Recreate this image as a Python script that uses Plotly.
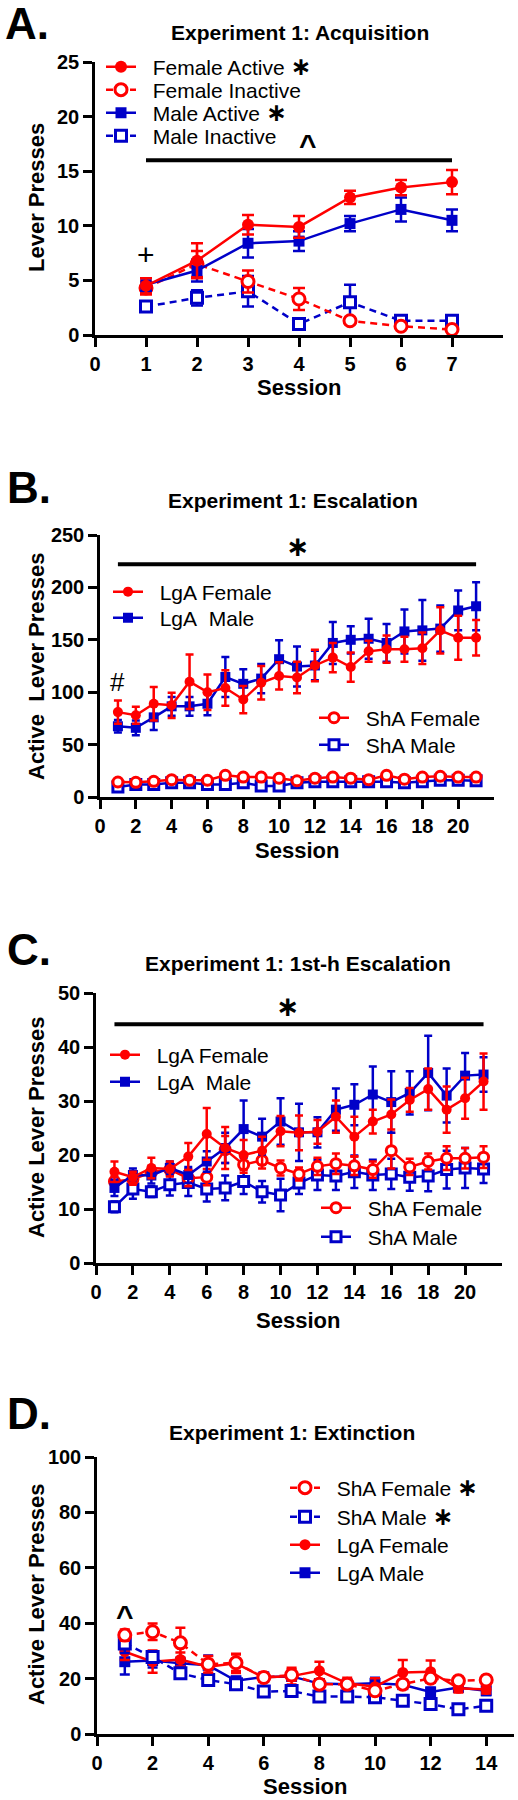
import plotly.graph_objects as go

W, H = 518, 1800
FONT = "Arial, 'Liberation Sans', Helvetica, sans-serif"
RED = "#FF0000"
BLUE = "#0000C8"

# ---------------- Panel A: Acquisition ----------------
sessions_A = [1, 2, 3, 4, 5, 6, 7]
female_active = [4.5, 6.8, 10.1, 9.9, 12.6, 13.5, 14.0]
female_active_err = [0.7, 1.6, 0.9, 1.0, 0.6, 0.7, 1.1]
female_inactive = [4.3, 6.5, 4.9, 3.3, 1.3, 0.8, 0.5]
female_inactive_err = [0.6, 1.2, 1.0, 1.0, 0.3, 0.2, 0.2]
male_active = [4.6, 5.9, 8.4, 8.6, 10.2, 11.5, 10.5]
male_active_err = [0.6, 1.0, 1.3, 0.9, 0.7, 1.1, 1.0]
male_inactive = [2.6, 3.4, 4.0, 1.0, 3.0, 1.3, 1.3]
male_inactive_err = [0.4, 0.7, 1.4, 0.3, 1.6, 0.3, 0.3]
ticks_A_x = [0, 1, 2, 3, 4, 5, 6, 7]
ticks_A_y = [0, 5, 10, 15, 20, 25]

# ---------------- Panel B: Escalation ----------------
sessions_B = list(range(1, 22))
lga_female_B = [81, 78, 89, 87.5, 110, 100, 104, 93, 109, 115.5, 114, 125.5, 133, 124, 139, 141, 141, 142, 159, 152, 152]
lga_female_B_err = [11, 8, 16, 12, 26, 17, 17, 13, 16, 13, 15, 15, 14, 14, 10, 13, 12, 15, 22, 21, 17]
lga_male_B = [67.5, 66, 76, 86.5, 86.5, 89, 114.5, 108, 113, 131.5, 124.5, 125.5, 147, 150, 151, 147, 158, 159, 160.7, 178, 182]
lga_male_B_err = [6, 7, 12, 9, 9, 11, 19, 14, 14, 18, 19, 14, 20, 13, 19, 18, 21, 29, 22, 19, 23]
sha_female_B = [14.3, 14, 15, 16.5, 16, 16, 20.7, 19, 19, 18, 15.5, 18, 19, 18, 16.5, 20.7, 17, 19, 19.8, 19, 19]
sha_female_B_err = [2] * 21
sha_male_B = [9.6, 12, 12, 13.5, 13.5, 12, 12, 13.5, 10.5, 10.5, 13.5, 14.5, 14.5, 14.5, 14.5, 14.5, 13.5, 14.5, 16, 16, 15.5]
sha_male_B_err = [2] * 21
ticks_B_x = [0, 2, 4, 6, 8, 10, 12, 14, 16, 18, 20]
ticks_B_y = [0, 50, 100, 150, 200, 250]

# ---------------- Panel C: 1st-h Escalation ----------------
sessions_C = list(range(1, 22))
lga_female_C = [16.9, 15.9, 17.6, 17.4, 19.7, 23.9, 21.3, 20.0, 20.8, 24.4, 24.1, 24.3, 27.1, 23.4, 26.2, 27.5, 30.2, 32.2, 28.4, 30.5, 33.6]
lga_female_C_err = [1.9, 1.0, 1.9, 1.4, 2.5, 4.8, 3.9, 2.8, 2.6, 2.8, 3.2, 2.2, 3.0, 3.7, 2.2, 2.8, 2.2, 3.8, 4.3, 3.8, 5.2]
lga_male_C = [13.9, 16.3, 16.2, 17.6, 16.3, 18.8, 21.3, 24.8, 23.4, 26.2, 24.2, 24.2, 28.4, 29.3, 31.2, 29.8, 31.5, 35.2, 31.0, 34.7, 34.9]
lga_male_C_err = [1.5, 1.2, 1.5, 1.2, 1.5, 1.9, 2.8, 5.3, 3.3, 4.3, 5.3, 2.8, 3.9, 3.8, 5.2, 5.7, 4.0, 6.9, 5.0, 4.2, 3.2]
sha_female_C = [15.1, 15.5, 16.8, 17.3, 15.7, 15.9, 21.0, 18.2, 19.0, 17.6, 16.5, 17.9, 18.4, 18.0, 17.3, 20.8, 17.8, 18.8, 19.4, 19.4, 19.6]
sha_female_C_err = [1.0, 1.0, 1.2, 1.2, 1.5, 1.5, 2.5, 1.5, 1.5, 1.4, 1.2, 1.6, 1.9, 1.7, 1.5, 3.3, 1.5, 1.5, 2.2, 1.9, 2.0]
sha_male_C = [10.4, 13.7, 13.2, 14.5, 14.9, 13.7, 13.9, 15.1, 13.2, 12.6, 14.8, 16.3, 16.1, 16.9, 16.3, 16.5, 15.9, 16.1, 17.3, 17.6, 17.4]
sha_male_C_err = [1.0, 1.8, 1.0, 2.0, 2.5, 2.3, 2.3, 2.3, 2.0, 3.0, 2.0, 2.8, 2.6, 3.0, 2.8, 2.8, 2.5, 2.8, 3.5, 3.7, 2.6]
ticks_C_x = [0, 2, 4, 6, 8, 10, 12, 14, 16, 18, 20]
ticks_C_y = [0, 10, 20, 30, 40, 50]

# ---------------- Panel D: Extinction ----------------
sessions_D = list(range(1, 15))
sha_female_D = [35.7, 36.9, 32.9, 25.2, 25.7, 20.4, 21.3, 18.0, 18.0, 15.6, 18.0, 20.1, 19.2, 19.5]
sha_female_D_err = [2.0, 3.0, 5.5, 3.0, 3.0, 1.5, 2.0, 1.5, 1.5, 1.5, 1.5, 1.5, 1.5, 1.5]
sha_male_D = [32.7, 27.8, 21.9, 19.5, 18.0, 15.3, 15.5, 13.5, 13.5, 13.3, 12.0, 10.8, 8.9, 10.2]
sha_male_D_err = [3.5, 2.0, 1.5, 2.0, 1.5, 1.5, 1.5, 1.5, 1.5, 1.5, 1.5, 1.5, 1.5, 1.5]
lga_female_D = [29.7, 26.1, 26.9, 24.3, 25.5, 20.4, 20.9, 22.8, 18.3, 17.1, 22.2, 22.5, 16.5, 16.1]
lga_female_D_err = [3.0, 4.0, 2.5, 2.5, 3.5, 1.5, 3.0, 3.3, 2.0, 3.0, 4.5, 4.0, 1.5, 1.5]
lga_male_D = [26.1, 26.5, 25.5, 24.8, 19.2, 20.6, 20.8, 18.2, 18.0, 18.3, 17.8, 15.2, 16.8, 15.6]
lga_male_D_err = [4.6, 2.5, 2.0, 3.5, 1.5, 1.5, 1.5, 1.5, 1.5, 2.0, 1.5, 1.5, 1.5, 1.5]
ticks_D_x = [0, 2, 4, 6, 8, 10, 12, 14]
ticks_D_y = [0, 20, 40, 60, 80, 100]

# significance bars (x0, x1, y) in data units
sig_bar_A = (1, 7, 16.0)
sig_bar_B = (1, 21, 222)
sig_bar_C = (1, 21, 44.2)

# ---------------- layout geometry (pixels) ----------------
panels = {
    1: dict(x0=95, x1=503, y_top=62, y_bot=335, xr=[0, 8], yr=[0, 25], xt=ticks_A_x, yt=ticks_A_y),
    2: dict(x0=100, x1=494, y_top=535, y_bot=797, xr=[0, 22], yr=[0, 250], xt=ticks_B_x, yt=ticks_B_y),
    3: dict(x0=96, x1=502, y_top=993, y_bot=1263, xr=[0, 22], yr=[0, 50], xt=ticks_C_x, yt=ticks_C_y),
    4: dict(x0=97, x1=514, y_top=1457, y_bot=1734, xr=[0, 15], yr=[0, 100], xt=ticks_D_x, yt=ticks_D_y),
}

def px(x):
    return x / W

def py(y):
    return 1 - y / H

fig = go.Figure()
legend_count = [0]
legend_layouts = {}

LEG_MARK_OFF = 22   # legend-left to symbol-center offset (px)


def add_series(panel, x, y, err, color, filled, dash, name, symbol, size, cap, leg_px, leg_py):
    legend_count[0] += 1
    lid = "legend" if legend_count[0] == 1 else f"legend{legend_count[0]}"
    xa = "x" if panel == 1 else f"x{panel}"
    ya = "y" if panel == 1 else f"y{panel}"
    marker = dict(symbol=symbol, size=size,
                  color=color if filled else "white",
                  line=dict(color=color, width=0 if filled else 3))
    fig.add_trace(go.Scatter(
        x=x, y=y, mode="lines+markers", name=name,
        line=dict(color=color, width=2.5, dash=dash),
        marker=marker,
        error_y=dict(type="data", array=err, color=color, thickness=2.5, width=cap),
        xaxis=xa, yaxis=ya, legend=lid, cliponaxis=False, showlegend=True,
    ))
    legend_layouts[lid] = dict(
        x=px(leg_px - LEG_MARK_OFF), y=py(leg_py), xanchor="left", yanchor="middle",
        bgcolor="rgba(0,0,0,0)", borderwidth=0, itemwidth=30, tracegroupgap=0,
        font=dict(family=FONT, size=21, color="black"),
    )

SP = "\u00a0\u00a0"
STAR = "\u00a0<span style='font-family:DejaVu Sans;font-size:25px;font-weight:bold'>\u2217</span>"
DASH = "7px,5px"

# Panel A
add_series(1, sessions_A, male_inactive, male_inactive_err, BLUE, False, DASH, SP + "Male Inactive", "square", 11, 6, 123, 136)
add_series(1, sessions_A, female_inactive, female_inactive_err, RED, False, DASH, SP + "Female Inactive", "circle", 12, 6, 123, 90)
add_series(1, sessions_A, male_active, male_active_err, BLUE, True, "solid", SP + "Male Active" + STAR, "square", 11, 6, 123, 113)
add_series(1, sessions_A, female_active, female_active_err, RED, True, "solid", SP + "Female Active" + STAR, "circle", 12, 6, 123, 67)

# Panel B
add_series(2, sessions_B, sha_male_B, sha_male_B_err, BLUE, False, "solid", SP + "ShA Male", "square", 10, 4, 336, 745)
add_series(2, sessions_B, sha_female_B, sha_female_B_err, RED, False, "solid", SP + "ShA Female", "circle", 10, 4, 336, 718)
add_series(2, sessions_B, lga_male_B, lga_male_B_err, BLUE, True, "solid", SP + "LgA\u00a0 Male", "square", 10, 4, 130, 618)
add_series(2, sessions_B, lga_female_B, lga_female_B_err, RED, True, "solid", SP + "LgA Female", "circle", 10, 4, 130, 592)

# Panel C
add_series(3, sessions_C, sha_male_C, sha_male_C_err, BLUE, False, "solid", SP + "ShA Male", "square", 10, 4, 338, 1237)
add_series(3, sessions_C, sha_female_C, sha_female_C_err, RED, False, "solid", SP + "ShA Female", "circle", 10, 4, 338, 1208)
add_series(3, sessions_C, lga_male_C, lga_male_C_err, BLUE, True, "solid", SP + "LgA\u00a0 Male", "square", 10, 4, 127, 1082)
add_series(3, sessions_C, lga_female_C, lga_female_C_err, RED, True, "solid", SP + "LgA Female", "circle", 10, 4, 127, 1055)

# Panel D
add_series(4, sessions_D, lga_male_D, lga_male_D_err, BLUE, True, "solid", SP + "LgA Male", "square", 11, 5, 307, 1573)
add_series(4, sessions_D, lga_female_D, lga_female_D_err, RED, True, "solid", SP + "LgA Female", "circle", 11, 5, 307, 1545)
add_series(4, sessions_D, sha_male_D, sha_male_D_err, BLUE, False, DASH, SP + "ShA Male" + STAR, "square", 11, 5, 307, 1517)
add_series(4, sessions_D, sha_female_D, sha_female_D_err, RED, False, DASH, SP + "ShA Female" + STAR, "circle", 12, 5, 307, 1488)

# axes
layout = dict(width=W, height=H, margin=dict(l=0, r=0, t=0, b=0, pad=0, autoexpand=False),
              paper_bgcolor="white", plot_bgcolor="white", showlegend=True)
for n, p in panels.items():
    xk = "xaxis" if n == 1 else f"xaxis{n}"
    yk = "yaxis" if n == 1 else f"yaxis{n}"
    common = dict(showline=True, linecolor="black", linewidth=2.5, ticks="outside",
                  ticklen=9, tickwidth=2.5, tickcolor="black", showgrid=False,
                  zeroline=False, fixedrange=True, automargin=False,
                  tickfont=dict(family=FONT, size=20, color="black", weight="bold"))
    layout[xk] = dict(common, domain=[px(p["x0"]), px(p["x1"])], range=p["xr"],
                      tickvals=p["xt"], anchor="y" if n == 1 else f"y{n}")
    layout[yk] = dict(common, domain=[py(p["y_bot"]), py(p["y_top"])], range=p["yr"],
                      tickvals=p["yt"], anchor="x" if n == 1 else f"x{n}")
layout.update(legend_layouts)
fig.update_layout(**layout)

# significance bars
for n, bar in zip([1, 2, 3], [sig_bar_A, sig_bar_B, sig_bar_C]):
    fig.add_shape(type="line", x0=bar[0], x1=bar[1], y0=bar[2], y1=bar[2],
                  xref="x" if n == 1 else f"x{n}", yref="y" if n == 1 else f"y{n}",
                  line=dict(color="black", width=4))

ann = []
def text(x, y, s, size, bold=True, xref="paper", yref="paper", angle=0, xanchor="center",
         yshift=0, family=FONT):
    ann.append(dict(x=x, y=y, xref=xref, yref=yref, text=f"<b>{s}</b>" if bold else s,
                    showarrow=False, textangle=angle, xanchor=xanchor, yanchor="middle",
                    yshift=yshift,
                    font=dict(family=family, size=size, color="black")))

# panel letters
text(px(3), py(24), "A.", 44, xanchor="left")
text(px(5), py(488), "B.", 44, xanchor="left")
text(px(5), py(949), "C.", 44, xanchor="left")
text(px(5), py(1413), "D.", 44, xanchor="left")
# titles
text(px(300), py(32), "Experiment 1: Acquisition", 21)
text(px(293), py(500), "Experiment 1: Escalation", 21)
text(px(298), py(963), "Experiment 1: 1st-h Escalation", 21)
text(px(292), py(1432), "Experiment 1: Extinction", 21)
# axis titles
text(px(299), py(388), "Session", 22)
text(px(297), py(850), "Session", 22)
text(px(298), py(1320), "Session", 22)
text(px(305), py(1786), "Session", 22)
text(px(37), py(198), "Lever Presses", 22, angle=-90)
text(px(36), py(666), "Active\u00a0 Lever Presses", 22, angle=-90)
text(px(36), py(1128), "Active Lever Presses", 22, angle=-90)
text(px(36), py(1595), "Active Lever Presses", 22, angle=-90)
# significance marks
text(1, 7.4, "+", 30, bold=False, xref="x", yref="y")
text(4.18, 17.9, "^", 30, xref="x", yref="y", yshift=-5)
text(11, 239.5, "\u2217", 28, xref="x2", yref="y2", family="DejaVu Sans")
text(1, 110, "#", 26, bold=False, xref="x2", yref="y2")
text(10.4, 47.5, "\u2217", 28, xref="x3", yref="y3", family="DejaVu Sans")
text(1, 44.7, "^", 30, xref="x4", yref="y4", yshift=-5)
fig.update_layout(annotations=ann)

fig.write_html("out.html", config={"displayModeBar": False},
               post_script="document.body.style.margin='0px';")
